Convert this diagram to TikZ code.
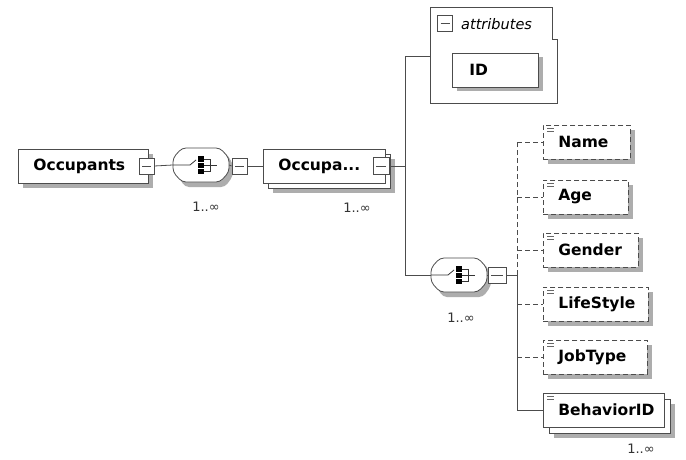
\documentclass[tikz,border=0pt]{standalone}
\usepackage{fontspec}
\setmainfont{DejaVu Sans}
\usetikzlibrary{shadows}
\newcommand{\lpad}{\hspace*{15pt}}
\begin{document}
\begin{tikzpicture}[x=1pt,y=-1pt,
  line/.style={draw=black!70, line width=0.8pt},
  opt/.style={dash pattern=on 5pt off 3pt},
  shd/.style={drop shadow={shadow xshift=4.5pt, shadow yshift=-4.5pt, fill=black!32, draw=none, opacity=1}},
  elem/.style={line, fill=white, anchor=west, minimum height=34pt, inner xsep=0pt, inner ysep=0pt,
    text width=#1, align=left, font=\fontsize{15.5}{18}\selectfont\bfseries},
  backbox/.style={line, fill=white, anchor=west, minimum height=34pt, minimum width=#1, inner sep=0pt},
  sqbox/.style={line, fill=white, minimum width=15pt, minimum height=16pt, inner sep=0pt,
    path picture={\draw[black!70, line width=0.7pt] ([xshift=3pt]path picture bounding box.west) -- ([xshift=-3pt]path picture bounding box.east);}},
  compbox/.style={minimum width=56pt, minimum height=34pt, inner sep=0pt},
  mult/.style={font=\fontsize{13}{15}\selectfont, text=black!80, inner sep=0pt},
  seqcomp/.pic={
    \fill[black!32, rounded corners=4pt] (-23,-12) -- (-15,-12) -- (25,-12) -- (32,-1) -- (32,11) -- (24,22) -- (-16,22) -- (-23,11) -- cycle;
    \draw[line, fill=white, rounded corners=4pt] (-28,-7) -- (-19,-17) -- (19,-17) -- (28,-7) -- (28,7) -- (19,17) -- (-19,17) -- (-28,7) -- cycle;
    \draw[black!80, line width=0.8pt] (-28,0) -- (-11,0) -- (-5,-5);
    \fill[black] (-3,-9) rectangle (3,9);
    \draw[white, line width=0.8pt] (-3,-3) -- (3,-3) (-3,3) -- (3,3);
    \draw[black!80, line width=0.7pt] (3,-6) -- (9,-6) -- (9,6) -- (3,6) (3,0) -- (16,0);
  },
  opticon/.pic={
    \draw[black!60, line width=0.6pt] (0,0) -- (7,0) (0,3) -- (7,3);
  }
]
\fill[white] (0,0) rectangle (686,460);
\useasboundingbox (0,0) rectangle (686,460);

% Occupants
\node[elem=130pt, shd] (occ) at (18,166) {\lpad Occupants};
\node[sqbox] (sqA) at (146.5,166) {};
\node[compbox] (comp1) at (201,165) {};
\pic at (comp1.center) {seqcomp};
\node[sqbox] (sqB) at (239.5,166) {};
\node[mult] (m1) at (206,207) {1..∞};

% Occupant (stacked)
\node[backbox=122pt, shd] (occ2b) at (268,171) {};
\node[elem=122pt] (occ2) at (263,166) {\lpad Occupa...};
\node[sqbox, minimum width=16pt, minimum height=17pt] (sqC) at (381,166) {};
\node[mult] (m2) at (357,208) {1..∞};

% attributes group
\draw[line, fill=white] (430,7) -- (552,7) -- (552,39) -- (557,39) -- (557,103) -- (430,103) -- cycle;
\node[sqbox, minimum width=15pt, minimum height=16pt] (attsq) at (445,23) {};
\node[anchor=west, inner sep=0pt, font=\fontsize{14.5}{17}\selectfont\itshape] (atttxt) at (461,24) {attributes};
\node[elem=86pt, shd] (id) at (452,70) {\hspace*{17pt}ID};
\coordinate (attL) at (430,56);

% trunk
\coordinate (jtop) at (405.5,56);
\coordinate (jmid) at (405.5,166);
\coordinate (jbot) at (405.5,275);

% second sequence
\node[compbox] (comp2) at (459,275) {};
\pic at (comp2.center) {seqcomp};
\node[sqbox, minimum width=18pt, minimum height=16pt] (sqD) at (497,275) {};
\node[mult] (m3) at (461,318) {1..∞};

% children
\coordinate (kA) at (517,275);
\coordinate (ktop) at (517,142);
\coordinate (kbot) at (517,410);
\node[elem=87pt, shd, opt] (name) at (543,142) {\lpad Name};
\node[elem=85pt, shd, opt] (age) at (543,197) {\lpad Age};
\node[elem=95pt, shd, opt] (gender) at (543,250) {\lpad Gender};
\node[elem=105pt, shd, opt] (life) at (543,304) {\lpad LifeStyle};
\node[elem=104pt, shd, opt] (job) at (543,357) {\lpad JobType};
\node[backbox=121pt, shd] (behb) at (549,416) {};
\node[elem=121pt] (beh) at (543,410) {\lpad BehaviorID};
\node[mult] (m4) at (641,449) {1..∞};

\foreach \n in {name,age,gender,life,job,beh}{
  \pic at ([xshift=4pt,yshift=-4pt]\n.north west) {opticon};
}

% connectors
\draw[line] (sqA.east) -- (comp1.west);
\draw[line] (comp1.east) -- (sqB.west);
\draw[line] (sqB.east) -- (occ2.west);
\draw[line] (sqC.east) -- (jmid);
\draw[line] (attL) -- (jtop) -- (jbot) -- (comp2.west);
\draw[line] (comp2.east) -- (sqD.west);
\draw[line] (sqD.east) -- (kA);
\draw[line, opt] (kA) -- (ktop);
\draw[line] (kA) -- (kbot);
\draw[line, opt] (ktop) -- (name.west);
\draw[line, opt] (age.west -| kA) -- (age.west);
\draw[line, opt] (gender.west -| kA) -- (gender.west);
\draw[line, opt] (life.west -| kA) -- (life.west);
\draw[line, opt] (job.west -| kA) -- (job.west);
\draw[line] (kbot) -- (beh.west);
\end{tikzpicture}
\end{document}
